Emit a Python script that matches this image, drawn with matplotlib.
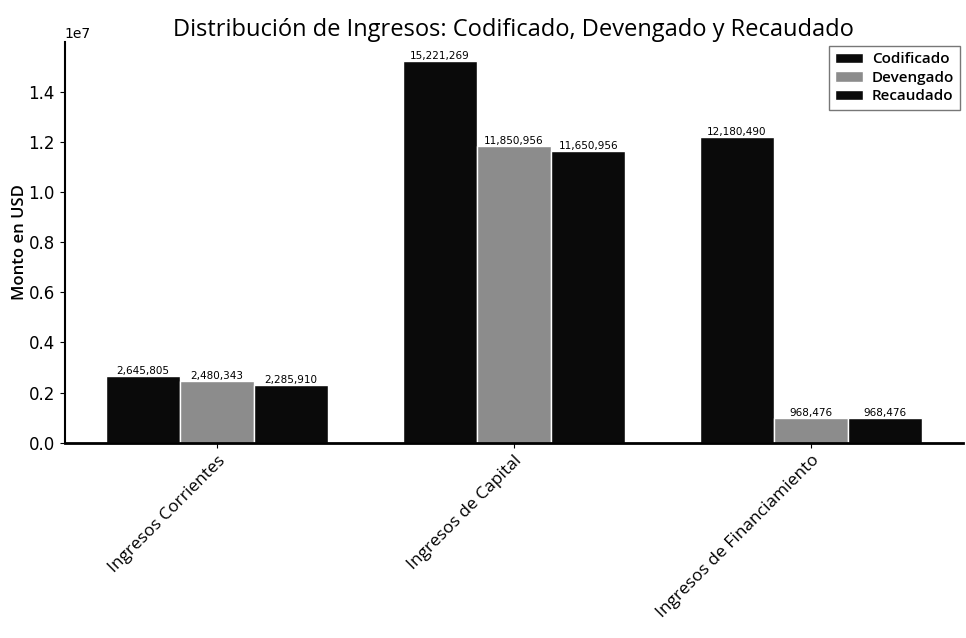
import matplotlib
matplotlib.use("Agg")
import matplotlib.pyplot as plt
import numpy as np

categories = ["Ingresos Corrientes", "Ingresos de Capital", "Ingresos de Financiamiento"]
codificado = [2645805, 15221269, 12180490]
devengado = [2480343, 11850956, 968476]
recaudado = [2285910, 11650956, 968476]
series_names = ["Codificado", "Devengado", "Recaudado"]
colors = ["#0a0a0a", "#8c8c8c", "#0a0a0a"]

fig = plt.figure(figsize=(9.66, 6.38), dpi=100)
ax = fig.add_axes([0.067, 0.306, 0.93, 0.628])

x = np.arange(len(categories))
w = 0.25
for i, (vals, name, c) in enumerate(zip([codificado, devengado, recaudado], series_names, colors)):
    bars = ax.bar(x + (i - 1) * w, vals, w, label=name, color=c, edgecolor="white", linewidth=1.0)
    for b, v in zip(bars, vals):
        ax.text(b.get_x() + b.get_width() / 2, b.get_height(), f"{v:,}",
                ha="center", va="bottom", fontsize=7.5, family="DejaVu Sans")

ax.set_title("Distribución de Ingresos: Codificado, Devengado y Recaudado",
             fontsize=17, family="Open Sans", pad=2)
ax.set_ylabel("Monto en USD", fontsize=12, family="Open Sans", fontweight="semibold", labelpad=0)
ax.set_xticks(x)
ax.set_xticklabels(categories, rotation=45, ha="right", rotation_mode="anchor",
                   fontsize=12.5, family="Open Sans")
ax.tick_params(axis="y", labelsize=12)
for s in ["top", "right"]:
    ax.spines[s].set_visible(False)
ax.spines["left"].set_linewidth(1.5)
ax.spines["bottom"].set_linewidth(2)
ax.legend(loc="upper right", prop={"family": "Open Sans", "size": 11, "weight": "semibold"},
          frameon=True, edgecolor="#555555", fancybox=False, borderaxespad=0.0,
          bbox_to_anchor=(0.997, 0.99),
          handlelength=1.8, handletextpad=0.6, labelspacing=0.3, borderpad=0.4)

fig.savefig("out.png", dpi=100)
